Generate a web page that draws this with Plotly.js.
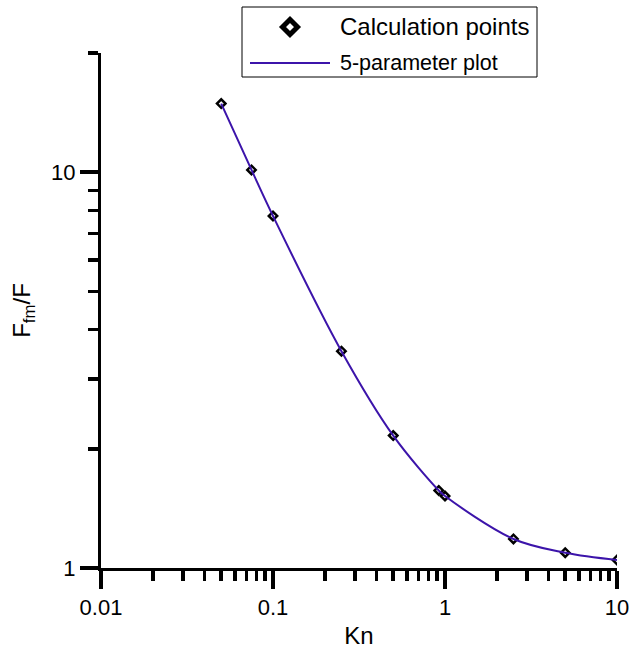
<!DOCTYPE html>
<html>
<head>
<meta charset="utf-8">
<script src="https://cdn.plot.ly/plotly-3.0.1.min.js"></script>
<style>
  html, body { margin: 0; padding: 0; background: #fff; }
  #chart { width: 632px; height: 652px; }
</style>
</head>
<body>
<div id="chart"></div>
<script>
// Knudsen number of each calculation point
const knValues = [0.05, 0.075, 0.1, 0.25, 0.5, 0.92, 1.0, 2.5, 5, 10];
// Force ratio F_fm / F at each point
const forceRatio = [14.9, 10.13, 7.75, 3.53, 2.16, 1.57, 1.52, 1.184, 1.093, 1.048];

const xTickVals = [0.01, 0.1, 1, 10];
const xTickText = ['0.01', '0.1', '1', '10'];
const yTickVals = [1, 10];
const yTickText = ['1', '10'];

const pointsName = 'Calculation points';
const fitName = '5-parameter plot';

const FONT = 'Liberation Sans, Arial, Helvetica, sans-serif';
const CURVE = '#3c14aa';

// plot area in pixels
const W = 632, H = 652;
const L = 101, R = 617, T = 53, B = 568;
const px = v => (v - L) / (R - L);
const py = v => (B - v) / (B - T);

// minor tick positions: 2..9 within each decade
function minorTicks(lo, hi) {
  const out = [];
  for (let d = lo; d < hi; d *= 10) {
    for (let k = 2; k <= 9; k++) out.push(+(k * d).toPrecision(3));
  }
  return out;
}
const xMinor = minorTicks(0.01, 10);
const yMinor = minorTicks(1, 10).concat([20]);

const traces = [
  {
    x: knValues, y: forceRatio, name: pointsName,
    type: 'scatter', mode: 'markers',
    marker: { symbol: 'diamond', size: 6.5, color: '#ffffff',
              line: { color: '#000000', width: 2.5 } },
    showlegend: false, hoverinfo: 'x+y'
  },
  {
    x: knValues, y: forceRatio, name: fitName,
    type: 'scatter', mode: 'lines',
    line: { color: CURVE, width: 2, shape: 'spline', smoothing: 1 },
    showlegend: false, hoverinfo: 'skip'
  }
];

const axisCommon = {
  type: 'log',
  showgrid: false, zeroline: false,
  showline: true, linecolor: '#000', linewidth: 3,
  ticks: 'outside', ticklen: 18, tickwidth: 3.5, tickcolor: '#000',
  tickmode: 'array',
  tickfont: { family: FONT, size: 22, color: '#000' },
  mirror: false
};

// legend frame, samples and labels
const legendBox = { x0: 242, x1: 537, y0: 7, y1: 77 };
const shapes = [
  {
    type: 'rect', xref: 'paper', yref: 'paper',
    x0: px(legendBox.x0), x1: px(legendBox.x1),
    y0: py(legendBox.y1), y1: py(legendBox.y0),
    line: { color: '#000', width: 1 }, fillcolor: '#fff', layer: 'above'
  },
  {
    type: 'path', xref: 'paper', yref: 'paper',
    xsizemode: 'pixel', ysizemode: 'pixel',
    xanchor: px(290), yanchor: py(27),
    path: 'M-7.5,0 L0,7.5 L7.5,0 L0,-7.5 Z',
    line: { color: '#000', width: 5 }, fillcolor: '#fff', layer: 'above'
  },
  {
    type: 'line', xref: 'paper', yref: 'paper',
    x0: px(250), x1: px(330), y0: py(63), y1: py(63),
    line: { color: CURVE, width: 2 }, layer: 'above'
  }
];

const annotations = [
  {
    xref: 'paper', yref: 'paper', x: px(338), y: py(27),
    xanchor: 'left', yanchor: 'middle', showarrow: false,
    text: pointsName, font: { family: FONT, size: 24, color: '#000' }
  },
  {
    xref: 'paper', yref: 'paper', x: px(338), y: py(63),
    xanchor: 'left', yanchor: 'middle', showarrow: false,
    text: fitName, font: { family: FONT, size: 21.5, color: '#000' }
  }
];

const layout = {
  width: W, height: H,
  margin: { l: L, r: W - R, t: T, b: H - B, pad: 0 },
  paper_bgcolor: '#fff', plot_bgcolor: '#fff',
  showlegend: false,
  font: { family: FONT, color: '#000' },
  xaxis: Object.assign({}, axisCommon, {
    range: [-2, 1],
    tickvals: xTickVals, ticktext: xTickText,
    minor: { tickmode: 'array', tickvals: xMinor, ticks: 'outside',
             ticklen: 10, tickwidth: 3.5, tickcolor: '#000', showgrid: false },
    title: { text: 'Kn', font: { family: FONT, size: 24, color: '#000' }, standoff: 8 }
  }),
  yaxis: Object.assign({}, axisCommon, {
    range: [0, Math.log10(20)],
    tickvals: yTickVals, ticktext: yTickText,
    minor: { tickmode: 'array', tickvals: yMinor, ticks: 'outside',
             ticklen: 10, tickwidth: 3.5, tickcolor: '#000', showgrid: false },
    title: { text: 'F<sub>fm</sub>/F', font: { family: FONT, size: 24, color: '#000' }, standoff: 14 }
  }),
  shapes: shapes,
  annotations: annotations
};

Plotly.newPlot('chart', traces, layout, { displayModeBar: false, staticPlot: true });
</script>
</body>
</html>
